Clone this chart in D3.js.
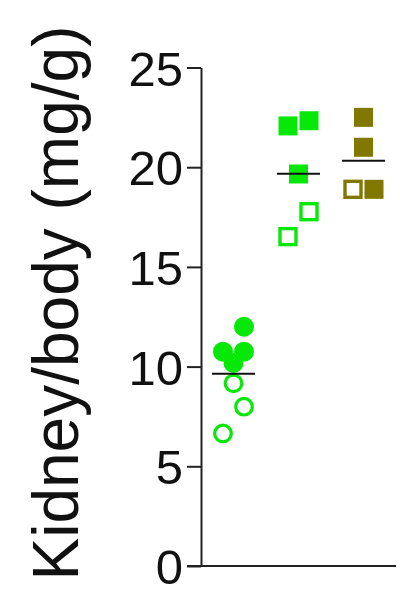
<!DOCTYPE html>
<html>
<head>
<meta charset="utf-8">
<script src="https://cdn.jsdelivr.net/npm/d3@7"></script>
<style>
  html, body { margin: 0; padding: 0; background: #fff; }
  svg { display: block; }
</style>
</head>
<body>
<svg id="chart" width="400" height="590"></svg>
<script>
// Kidney-to-body weight ratio per group, filled and open animals
const groups = ["Group 1", "Group 2", "Group 3"];
const filledValues = [
  [12.0, 10.75, 10.75, 10.18],
  [22.07, 22.33, 19.66],
  [22.5, 21.0, 18.89]
];
const openValues = [
  [9.16, 7.99, 6.65],
  [17.77, 16.52],
  [18.89]
];
const yTicks = [0, 5, 10, 15, 20, 25];
const yTitle = "Kidney/body (mg/g)";

// Column-scatter slot for each point (-1 left, 0 centre, +1 right)
const filledSlots = [[1, -1, 1, 0], [-1, 1, 0], [0, 0, 1]];
const openSlots = [[0, 1, -1], [1, -1], [-1]];

const groupColor = ["#08e808", "#08e808", "#807800"];
const groupShape = ["circle", "square", "square"];

const svg = d3.select("#chart");
const font = "'Liberation Sans', Arial, Helvetica, sans-serif";

const y = d3.scaleLinear().domain([0, 25]).range([566, 67.5]);
const x = d3.scaleBand().domain(groups).range([201, 396]).padding(0);
const slot = d3.scaleLinear().domain([-1, 1]).range([-10.5, 10.5]);

// y axis
const yAxis = d3.axisLeft(y)
  .tickValues(yTicks)
  .tickFormat(d3.format("d"))
  .tickSize(14)
  .tickSizeOuter(0)
  .tickPadding(4);

const gy = svg.append("g")
  .attr("transform", `translate(${x.range()[0]},0)`)
  .call(yAxis);
gy.select(".domain").attr("stroke", "#222").attr("stroke-width", 2);
gy.selectAll(".tick line").attr("stroke", "#222").attr("stroke-width", 2);
gy.selectAll(".tick text")
  .attr("font-family", font)
  .attr("font-size", 49)
  .attr("fill", "#111")
  .attr("dy", "0.36em");

// x axis baseline, continuing the zero tick
svg.append("line")
  .attr("x1", x.range()[0] - 14)
  .attr("x2", x.range()[1])
  .attr("y1", y(0))
  .attr("y2", y(0))
  .attr("stroke", "#222")
  .attr("stroke-width", 2);

// y axis title
svg.append("text")
  .attr("transform", "translate(78, 303) rotate(-90)")
  .attr("text-anchor", "middle")
  .attr("font-family", font)
  .attr("font-size", 64)
  .attr("fill", "#111")
  .text(yTitle);

// points
function drawPoint(g, shape, cx, cy, color, filled) {
  if (shape === "circle") {
    if (filled) {
      g.append("circle").attr("cx", cx).attr("cy", cy).attr("r", 10).attr("fill", color);
    } else {
      g.append("circle").attr("cx", cx).attr("cy", cy).attr("r", 8.3)
        .attr("fill", "#fff").attr("stroke", color).attr("stroke-width", 3.2);
    }
  } else {
    if (filled) {
      g.append("rect").attr("x", cx - 9.5).attr("y", cy - 9.5)
        .attr("width", 19).attr("height", 19).attr("fill", color);
    } else {
      g.append("rect").attr("x", cx - 8).attr("y", cy - 8)
        .attr("width", 16).attr("height", 16)
        .attr("fill", "#fff").attr("stroke", color).attr("stroke-width", 3.4);
    }
  }
}

const pts = svg.append("g");
groups.forEach((grp, gi) => {
  const cx0 = x(grp) + x.bandwidth() / 2;
  filledValues[gi].forEach((v, i) => {
    drawPoint(pts, groupShape[gi], cx0 + slot(filledSlots[gi][i]), y(v), groupColor[gi], true);
  });
  openValues[gi].forEach((v, i) => {
    drawPoint(pts, groupShape[gi], cx0 + slot(openSlots[gi][i]), y(v), groupColor[gi], false);
  });
});

// group means
groups.forEach((grp, gi) => {
  const all = filledValues[gi].concat(openValues[gi]);
  const m = d3.mean(all);
  const cx0 = x(grp) + x.bandwidth() / 2;
  svg.append("line")
    .attr("x1", cx0 - 21.5)
    .attr("x2", cx0 + 21.5)
    .attr("y1", y(m))
    .attr("y2", y(m))
    .attr("stroke", "#111")
    .attr("stroke-width", 2);
});
</script>
</body>
</html>
